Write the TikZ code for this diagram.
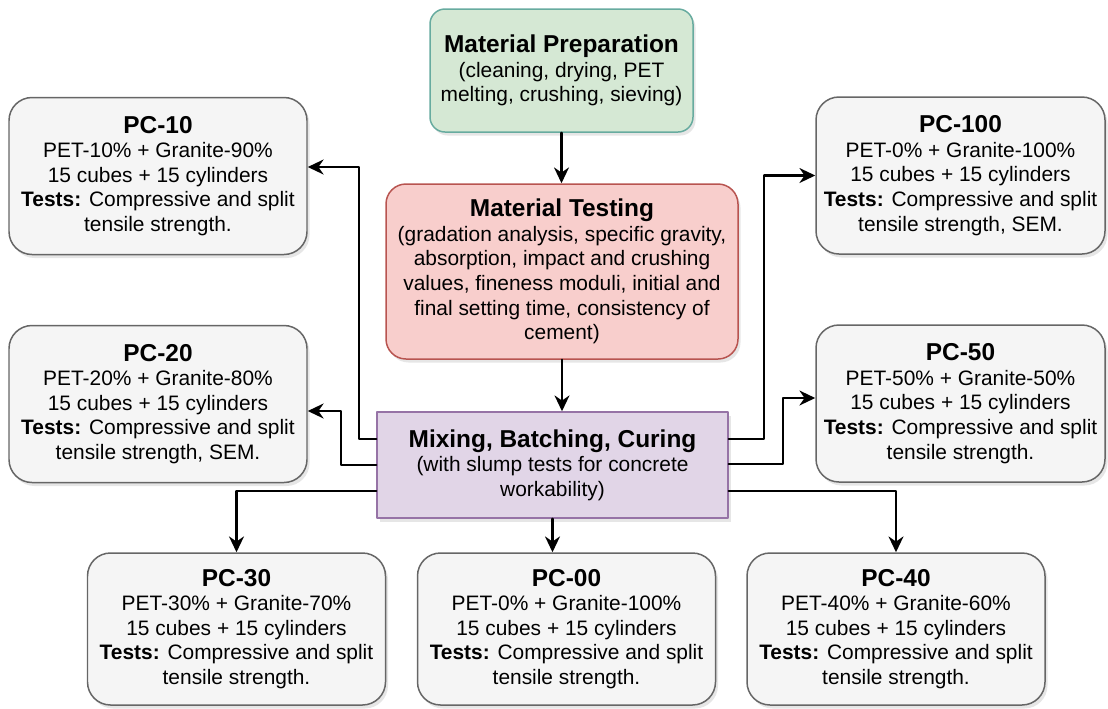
\documentclass[tikz,border=0pt]{standalone}
\usepackage{fontspec}
\setmainfont{Liberation Sans}
\usepackage{xcolor}
\usetikzlibrary{arrows.meta,calc,positioning,shadows}
\definecolor{prepfill}{HTML}{D5E8D4}
\definecolor{prepline}{HTML}{67AB9F}
\definecolor{testfill}{HTML}{F8CECC}
\definecolor{testline}{HTML}{B85450}
\definecolor{mixfill}{HTML}{E1D5E7}
\definecolor{mixline}{HTML}{9673A6}
\definecolor{pcfill}{HTML}{F5F5F5}
\definecolor{pcline}{HTML}{666666}
\newcommand{\boxtitle}[1]{{\fontsize{13.9}{14}\selectfont\bfseries #1}}
\tikzset{
  stage/.style={draw, align=center, line width=0.85pt, inner sep=2pt,
    font=\fontsize{11.9}{14}\selectfont,
    drop shadow={shadow xshift=0.05cm, shadow yshift=-0.07cm, opacity=0.2}},
  prepbox/.style={stage, draw=prepline, fill=prepfill, rounded corners=0.3cm,
    minimum width=5.26cm, minimum height=2.46cm},
  testbox/.style={stage, draw=testline, fill=testfill, rounded corners=0.4cm,
    minimum width=7.04cm, minimum height=3.5cm},
  mixbox/.style={stage, draw=mixline, fill=mixfill,
    minimum width=7.02cm, minimum height=2.12cm},
  pcbox/.style={stage, draw=pcline, fill=pcfill, rounded corners=0.46cm,
    minimum width=5.96cm, minimum height=3.14cm},
  flow/.style={-{Stealth[length=9pt,width=8.5pt]}, line width=1.3pt},
  every picture/.style={line cap=round, line join=round}
}

\begin{document}
\begin{tikzpicture}
  \useasboundingbox (0,0) rectangle (22.16,-14.16);
  \node[prepbox] (prep) at (11.23,-1.41) {\boxtitle{Material Preparation}\\(cleaning, drying, PET\\melting, crushing, sieving)};
  \node[testbox] (test) at (11.24,-5.43) {\boxtitle{Material Testing}\\(gradation analysis, specific gravity,\\absorption, impact and crushing\\values, fineness moduli, initial and\\final setting time, consistency of\\cement)};
  \node[mixbox] (mix) at (11.05,-9.30) {\boxtitle{Mixing, Batching, Curing}\\(with slump tests for concrete\\workability)};
  \node[pcbox] (pc10) at (3.16,-3.52) {\boxtitle{PC-10}\\PET-10\% + Granite-90\%\\15 cubes + 15 cylinders\\\textbf{Tests:} Compressive and split\\tensile strength.};
  \node[pcbox] (pc20) at (3.16,-8.08) {\boxtitle{PC-20}\\PET-20\% + Granite-80\%\\15 cubes + 15 cylinders\\\textbf{Tests:} Compressive and split\\tensile strength, SEM.};
  \node[pcbox, minimum width=5.78cm] (pc100) at (19.21,-3.51) {\boxtitle{PC-100}\\PET-0\% + Granite-100\%\\15 cubes + 15 cylinders\\\textbf{Tests:} Compressive and split\\tensile strength, SEM.};
  \node[pcbox, minimum width=5.78cm] (pc50) at (19.21,-8.07) {\boxtitle{PC-50}\\PET-50\% + Granite-50\%\\15 cubes + 15 cylinders\\\textbf{Tests:} Compressive and split\\tensile strength.};
  \node[pcbox, minimum height=3.04cm] (pc30) at (4.73,-12.58) {\boxtitle{PC-30}\\PET-30\% + Granite-70\%\\15 cubes + 15 cylinders\\\textbf{Tests:} Compressive and split\\tensile strength.};
  \node[pcbox, minimum height=3.04cm] (pc00) at (11.33,-12.58) {\boxtitle{PC-00}\\PET-0\% + Granite-100\%\\15 cubes + 15 cylinders\\\textbf{Tests:} Compressive and split\\tensile strength.};
  \node[pcbox, minimum height=3.04cm] (pc40) at (17.92,-12.58) {\boxtitle{PC-40}\\PET-40\% + Granite-60\%\\15 cubes + 15 cylinders\\\textbf{Tests:} Compressive and split\\tensile strength.};
  % main chain
  \draw[flow] (prep.south) -- (prep.south |- test.north);
  \draw[flow] (test.south) -- (test.south |- mix.north);
  % left branches
  \draw[flow] ([yshift=0.52cm]mix.west) -- ++(-0.34,0) |- ([yshift=0.18cm]pc10.east);
  \draw[flow] (mix.west) -- ++(-0.70,0) |- ([yshift=-0.14cm]pc20.east);
  \draw[flow] ([yshift=-0.52cm]mix.west) -| (pc30.north);
  % bottom and right branches
  \draw[flow] (mix.south) -- (mix.south |- pc00.north);
  \draw[flow] ([yshift=-0.52cm]mix.east) -| (pc40.north);
  \draw[flow] ([yshift=0.52cm]mix.east) -- ++(0.70,0) |- (pc100.west);
  \draw[flow] ([yshift=0.02cm]mix.east) -- ++(1.08,0) |- ([yshift=0.11cm]pc50.west);
\end{tikzpicture}
\end{document}
